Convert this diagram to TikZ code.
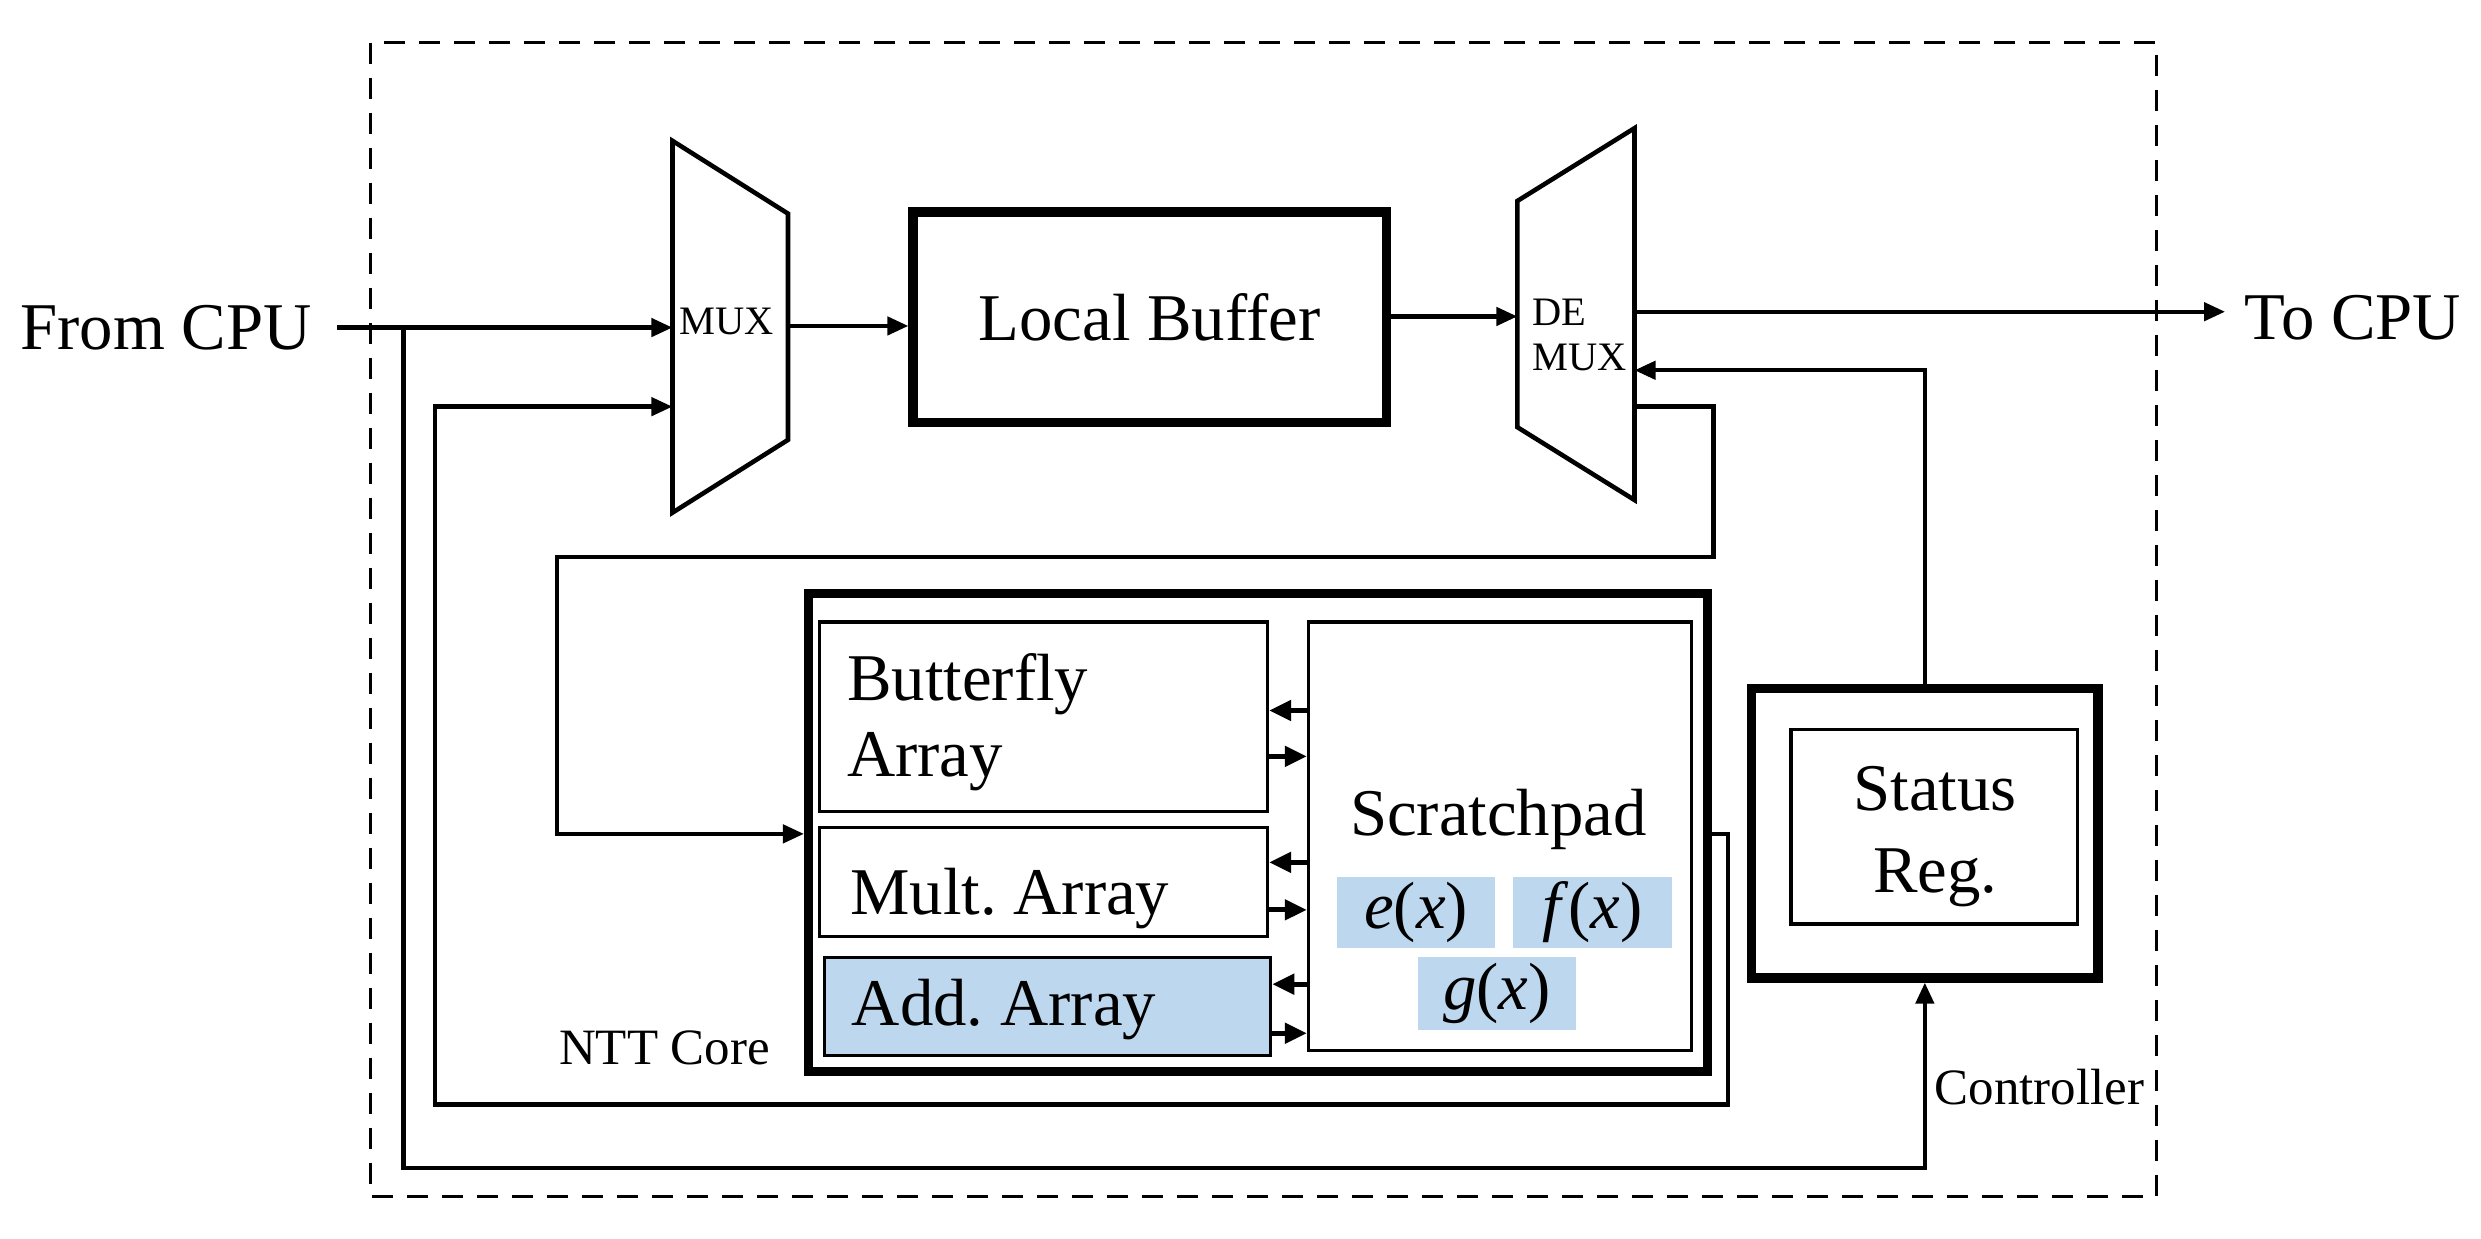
\documentclass[tikz,border=0pt]{standalone}
\usepackage{fontspec}
\setmainfont{Liberation Serif}
\usetikzlibrary{arrows.meta,fit,calc}
\definecolor{lblue}{HTML}{BDD7EE}
\begin{document}
\begin{tikzpicture}[x=0.015823cm,y=-0.015823cm,
  conn/.style={line width=1.25pt},
  arr/.style={line width=1.25pt,-{Triangle[length=0.21cm,width=0.18cm]}},
  iarr/.style={line width=1.4pt,-{Triangle[length=0.22cm,width=0.2cm]}},
  tbox/.style={draw,line width=2.6pt,inner sep=0pt},
  nbox/.style={draw,line width=1pt,inner sep=0pt},
  bigtxt/.style={font=\fontsize{19}{23}\selectfont,inner sep=0pt},
  midtxt/.style={font=\fontsize{14.5}{17}\selectfont,inner sep=0pt},
  smalltxt/.style={font=\fontsize{11.5}{12.8}\selectfont,inner sep=0pt},
  muxshape/.style={line width=1.3pt,line join=miter}]
\useasboundingbox (0,0) rectangle (1568,783);
% outer dashed frame
\draw[line width=0.75pt,dash pattern=on 0.21cm off 0.14cm] (234,27) rectangle (1363,756);

% terminals
\node[bigtxt,inner xsep=0.25cm] (from) at (105,207) {From CPU};
\node[bigtxt,inner xsep=0.19cm] (to) at (1487,201) {To CPU};

% MUX
\coordinate (mtl) at (425,89);
\coordinate (mtr) at (498,135);
\coordinate (mbr) at (498,278);
\coordinate (mbl) at (425,324);
\draw[muxshape] (mtl) -- (mtr) -- (mbr) -- (mbl) -- cycle;
\node[smalltxt] (muxt) at (459,203) {MUX};
\coordinate (muxin1) at (425,207);
\coordinate (muxin2) at (425,257);
\coordinate (muxout) at (498,206);

% DEMUX
\coordinate (dtl) at (959,127);
\coordinate (dtr) at (1033,81);
\coordinate (dbr) at (1033,316);
\coordinate (dbl) at (959,270);
\draw[muxshape] (dtl) -- (dtr) -- (dbr) -- (dbl) -- cycle;
\node[smalltxt,anchor=west,align=left] (dmt) at (968,212) {DE\\MUX};
\coordinate (dmin) at (959,200);
\coordinate (dmout) at (1034,197);
\coordinate (dmin2) at (1033,234);
\coordinate (dmout2) at (1033,257);

% Local buffer
\node[tbox,fit={(577,134)(876,267)}] (lb) {};
\node[bigtxt] (lbt) at (lb.center) {Local Buffer};

% NTT core
\node[tbox,fit={(511,375)(1079,677)}] (ntt) {};
\node[nbox,fit={(518,393)(801,513)}] (bf) {};
\node[nbox,fit={(518,523)(801,592)}] (ml) {};
\node[nbox,fill=lblue,fit={(521,605)(803,667)}] (ad) {};
\node[nbox,fit={(827,393)(1069,664)}] (sp) {};
\node[fill=lblue,inner sep=0pt,fit={(845,554)(945,599)}] (ex) {};
\node[fill=lblue,inner sep=0pt,fit={(956,554)(1057,599)}] (fx) {};
\node[fill=lblue,inner sep=0pt,fit={(896,605)(996,651)}] (gx) {};
\node[bigtxt] (ext) at (ex.center) {\textit{e}(\textit{x})};
\node[bigtxt] (fxt) at (fx.center) {\textit{f}(\textit{x})};
\node[bigtxt] (gxt) at (gx.center) {\textit{g}(\textit{x})};
\node[bigtxt,anchor=base west] (bft1) at (535,443) {Butterfly};
\node[bigtxt,anchor=base west] (bft2) at (535,491) {Array};
\node[bigtxt,anchor=base west] (mlt) at (537,578) {Mult.\ Array};
\node[bigtxt,anchor=base west] (adt) at (538,648) {Add.\ Array};
\node[bigtxt,anchor=base] (spt) at (947,528) {Scratchpad};
\node[midtxt,anchor=base] (nttt) at (420,673) {NTT Core};

% status register
\node[draw,line width=2.7pt,inner sep=0pt,fit={(1107,435)(1326,618)}] (st) {};
\node[nbox,fit={(1132,461)(1313,584)}] (sti) {};
\node[bigtxt,anchor=base] (stt1) at (1223,512) {Status};
\node[bigtxt,anchor=base] (stt2) at (1223,564) {Reg.};
\node[midtxt,anchor=base] (ctl) at (1289,698) {Controller};

% connectors
\draw[arr] (from.east) -- (muxin1);
\coordinate (br) at (255,207);
\coordinate (brc) at (255,738);
\draw[arr] (br) -- (brc) -| (st.south);
\draw[arr] (ntt.east |- 0,527) -- (1092,527) -- (1092,698) -- (275,698) |- (muxin2);
\draw[arr] (muxout) -- (lb.west |- muxout);
\draw[arr] (lb.east |- dmin) -- (dmin);
\draw[arr] (dmout) -- (to.west |- dmout);
\draw[arr] (st.north) |- (dmin2);
\draw[arr] (dmout2) -- (1083,257) -- (1083,352) -- (352,352) |- (ntt.west |- 0,527);

% internal arrows
\draw[iarr] (sp.west |- 0,449) -- (bf.east |- 0,449);
\draw[iarr] (bf.east |- 0,478) -- (sp.west |- 0,478);
\draw[iarr] (sp.west |- 0,545) -- (ml.east |- 0,545);
\draw[iarr] (ml.east |- 0,575) -- (sp.west |- 0,575);
\draw[iarr] (sp.west |- 0,622) -- (ad.east |- 0,622);
\draw[iarr] (ad.east |- 0,653) -- (sp.west |- 0,653);
\end{tikzpicture}
\end{document}
